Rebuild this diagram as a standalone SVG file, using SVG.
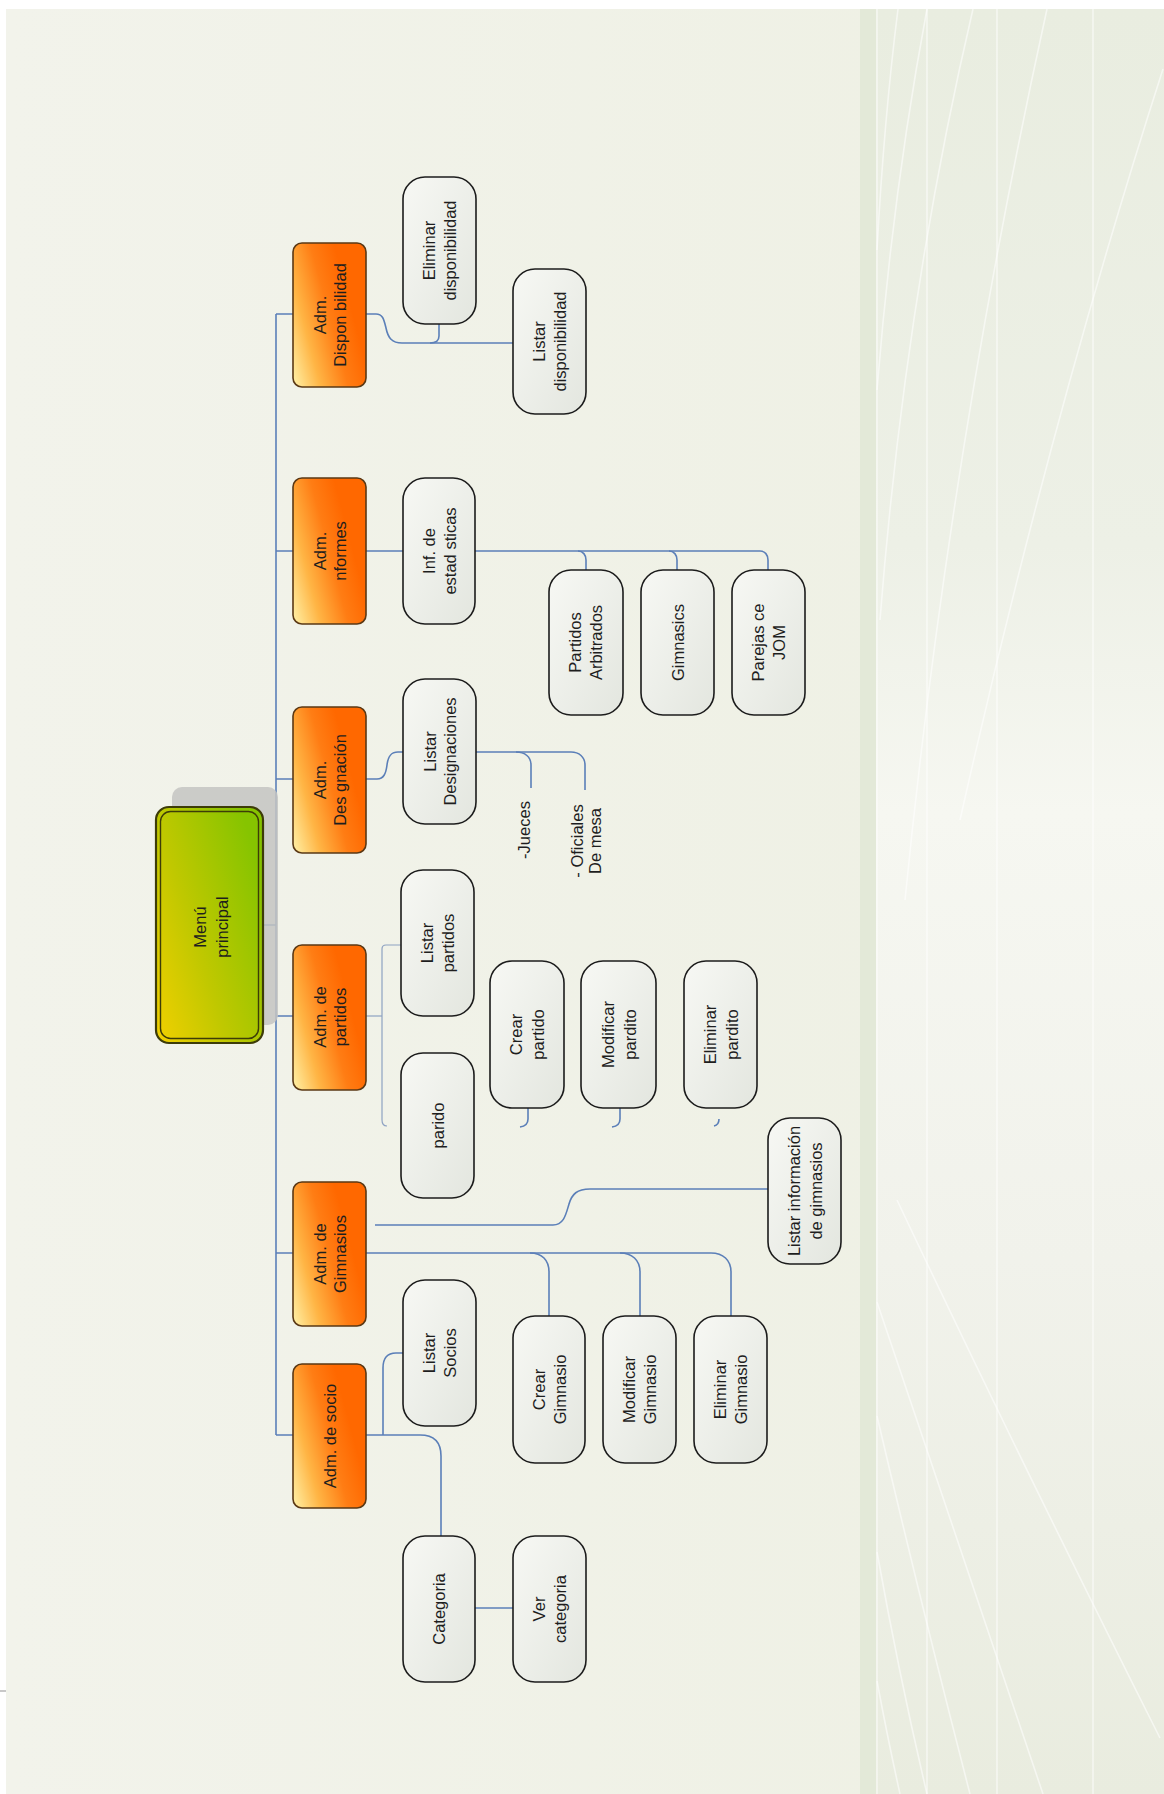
<svg xmlns="http://www.w3.org/2000/svg" width="1164" height="1794" viewBox="0 0 1164 1794">
<defs>
<linearGradient id="bg" x1="0" y1="0" x2="1" y2="0">
<stop offset="0" stop-color="#f2f3eb"/><stop offset="1" stop-color="#eef0e3"/>
</linearGradient>
<linearGradient id="pg" x1="0" y1="0" x2="0" y2="1">
<stop offset="0" stop-color="#e9ede0"/><stop offset="0.3" stop-color="#edf0e6"/><stop offset="0.45" stop-color="#f6f7f1"/><stop offset="0.7" stop-color="#f1f2eb"/><stop offset="1" stop-color="#e9ecdf"/>
</linearGradient>
<linearGradient id="og" x1="0" y1="1" x2="0.85" y2="0.55">
<stop offset="0" stop-color="#fff2a8"/><stop offset="0.35" stop-color="#ffb545"/><stop offset="0.7" stop-color="#ff7d14"/><stop offset="1" stop-color="#ff6800"/>
</linearGradient>
<linearGradient id="gg" x1="0" y1="1" x2="1" y2="0.3">
<stop offset="0" stop-color="#f2d000"/><stop offset="0.45" stop-color="#c0c800"/><stop offset="1" stop-color="#86c400"/>
</linearGradient>
<linearGradient id="wg" x1="0" y1="0" x2="1" y2="1">
<stop offset="0" stop-color="#f7f8f4"/><stop offset="1" stop-color="#e3e6df"/>
</linearGradient>
<style>
.t{font-family:"Liberation Sans",Arial,sans-serif;font-size:16.5px;fill:#1e1e1e;text-anchor:middle;dominant-baseline:central}
.o{fill:url(#og);stroke:#5a3814;stroke-width:1.6}
.g{fill:url(#wg);stroke:#1c1c1c;stroke-width:1.6}
.c{fill:none;stroke:#5b7fb8;stroke-width:1.6}
.f{fill:none;stroke:#8ea2c2;stroke-width:1.2}
.d{fill:none;stroke:#ffffff;stroke-opacity:0.55;stroke-width:1.6}
</style>
</defs>
<rect width="1164" height="1794" fill="#ffffff"/>
<rect x="6" y="9" width="1158" height="1785" fill="url(#bg)"/>
<rect x="860" y="9" width="16" height="1785" fill="#e3e9d8"/>
<rect x="876" y="9" width="288" height="1785" fill="url(#pg)"/>
<rect x="0" y="1690" width="6" height="2" fill="#c8c8c8"/>
<g id="decor">
<line class="d" x1="877" y1="9" x2="877" y2="1794" stroke-width="2.5"/>
<line class="d" x1="927" y1="9" x2="927" y2="1794"/>
<line class="d" x1="997" y1="9" x2="997" y2="1794"/>
<line class="d" x1="1093" y1="9" x2="1093" y2="1794"/>
<path class="d" d="M877,250 Q884,120 898,9"/>
<path class="d" d="M877,390 Q893,190 927,9"/>
<path class="d" d="M880,620 Q905,300 973,9"/>
<path class="d" d="M905,900 Q950,450 1047,9"/>
<path class="d" d="M960,820 Q1050,420 1163,69"/>
<path class="d" d="M897,1200 Q1020,1460 1160,1738"/>
<path class="d" d="M877,1302 Q950,1520 1043,1794"/>
<path class="d" d="M877,1416 Q920,1600 970,1794"/>
<path class="d" d="M877,1552 Q900,1680 927,1794"/>
<path class="d" d="M877,1681 Q888,1740 900,1794"/>
</g>
<g id="connectors">
<path class="c" d="M263,925 H276"/>
<path class="c" d="M276,314 V1435"/>
<path class="c" d="M276,314 H293 M276,551 H293 M276,779 H293 M276,1016 H293 M276,1253 H293 M276,1435 H293"/>
<path class="c" d="M366,314 H376 C383,314 384,320 386,328 C388,338 392,343 402,343 H513"/>
<path class="c" d="M439,324 V336 C439,341 436,343 430,343"/>
<path class="c" d="M366,551 H403 M475,551 H760 C765,551 768,555 768,560 V570"/>
<path class="c" d="M578,551 C583,551 586,555 586,560 V570"/>
<path class="c" d="M669,551 C674,551 677,555 677,560 V570"/>
<path class="c" d="M366,779 H377 C384,779 386,773 387,765 C388,756 391,752 398,752 H403"/>
<path class="c" d="M476,752 H571 C579,752 585,757 585,765 V790"/>
<path class="c" d="M516,752 C525,752 531,757 531,765 V788"/>
<path class="f" d="M366,1016 H382"/>
<path class="f" d="M401,945 H386 Q382,945 382,949 V1120 Q382,1126 387,1126"/>
<path class="c" d="M528,1108 V1119 Q528,1126 520,1127"/>
<path class="c" d="M620,1108 V1119 Q620,1126 612,1127"/>
<path class="c" d="M719,1119 Q719,1125 714,1126"/>
<path class="c" d="M375,1225 H553 C564,1225 566,1214 569,1204 C572,1194 577,1189 590,1189 H768"/>
<path class="c" d="M366,1253 H711 C723,1253 731,1260 731,1272 V1317"/>
<path class="c" d="M530,1253 C542,1253 549,1260 549,1272 V1317"/>
<path class="c" d="M620,1253 C632,1253 640,1260 640,1272 V1317"/>
<path class="c" d="M366,1435 H420 C434,1435 441,1442 441,1456 V1536"/>
<path class="c" d="M383,1435 V1368 C383,1358 388,1353 396,1353 H403"/>
<path class="c" d="M475,1608 H513"/>
</g>
<g id="menu">
<rect x="172" y="787" width="106" height="238" rx="10" fill="#c4c4c2" opacity="0.85"/>
<rect x="156" y="807" width="107" height="236" rx="13" fill="url(#gg)" stroke="#3d3c08" stroke-width="2.2"/>
<rect x="160.5" y="811.5" width="98" height="227" rx="10" fill="none" stroke="#3d3c08" stroke-width="1.4"/>
<text class="t" transform="translate(211,927) rotate(-90)"><tspan x="0" y="-11">Menú</tspan><tspan x="0" y="11">principal</tspan></text>
</g>
<g id="adm-disponibilidad">
<rect class="o" x="293" y="243" width="73" height="144" rx="9"/>
<text class="t" transform="translate(330,315) rotate(-90)"><tspan x="0" y="-10">Adm.</tspan><tspan x="0" y="10">Dispon bilidad</tspan></text>
</g>
<g id="adm-informes">
<rect class="o" x="293" y="478" width="73" height="146" rx="9"/>
<text class="t" transform="translate(330,551) rotate(-90)"><tspan x="0" y="-10">Adm.</tspan><tspan x="0" y="10">nformes</tspan></text>
</g>
<g id="adm-designacion">
<rect class="o" x="293" y="707" width="73" height="146" rx="9"/>
<text class="t" transform="translate(330,780) rotate(-90)"><tspan x="0" y="-10">Adm.</tspan><tspan x="0" y="10">Des gnación</tspan></text>
</g>
<g id="adm-partidos">
<rect class="o" x="293" y="945" width="73" height="145" rx="9"/>
<text class="t" transform="translate(330,1017) rotate(-90)"><tspan x="0" y="-10">Adm. de</tspan><tspan x="0" y="10">partidos</tspan></text>
</g>
<g id="adm-gimnasios">
<rect class="o" x="293" y="1182" width="73" height="144" rx="9"/>
<text class="t" transform="translate(330,1254) rotate(-90)"><tspan x="0" y="-10">Adm. de</tspan><tspan x="0" y="10">Gimnasios</tspan></text>
</g>
<g id="adm-socio">
<rect class="o" x="293" y="1364" width="73" height="144" rx="9"/>
<text class="t" transform="translate(330,1436) rotate(-90)">Adm. de socio</text>
</g>
<g id="eliminar-disponibilidad">
<rect class="g" x="403" y="177" width="73" height="147" rx="22"/>
<text class="t" transform="translate(439.5,250.5) rotate(-90)"><tspan x="0" y="-10.5">Eliminar</tspan><tspan x="0" y="10.5">disponibilidad</tspan></text>
</g>
<g id="listar-disponibilidad">
<rect class="g" x="513" y="269" width="73" height="145" rx="22"/>
<text class="t" transform="translate(549.5,341.5) rotate(-90)"><tspan x="0" y="-10.5">Listar</tspan><tspan x="0" y="10.5">disponibilidad</tspan></text>
</g>
<g id="inf-estadisticas">
<rect class="g" x="403" y="478" width="72" height="146" rx="22"/>
<text class="t" transform="translate(439,551) rotate(-90)"><tspan x="0" y="-10.5">Inf. de</tspan><tspan x="0" y="10.5">estad sticas</tspan></text>
</g>
<g id="partidos-arbitrados">
<rect class="g" x="549" y="570" width="74" height="145" rx="22"/>
<text class="t" transform="translate(585,642.5) rotate(-90)"><tspan x="0" y="-10.5">Partidos</tspan><tspan x="0" y="10.5">Arbitrados</tspan></text>
</g>
<g id="gimnasics">
<rect class="g" x="641" y="570" width="73" height="145" rx="22"/>
<text class="t" transform="translate(677.5,642.5) rotate(-90)">Gimnasics</text>
</g>
<g id="parejas-jom">
<rect class="g" x="732" y="570" width="73" height="145" rx="22"/>
<text class="t" transform="translate(768.5,642.5) rotate(-90)"><tspan x="0" y="-10.5">Parejas ce</tspan><tspan x="0" y="10.5">JOM</tspan></text>
</g>
<g id="listar-designaciones">
<rect class="g" x="403" y="679" width="73" height="145" rx="22"/>
<text class="t" transform="translate(440,751.5) rotate(-90)"><tspan x="0" y="-10">Listar</tspan><tspan x="0" y="10">Designaciones</tspan></text>
</g>
<g id="jueces">
<text class="t" transform="translate(524,830) rotate(-90)">-Jueces</text>
</g>
<g id="oficiales">
<text class="t" transform="translate(586,841) rotate(-90)"><tspan x="0" y="-9">- Oficiales</tspan><tspan x="0" y="9">De mesa</tspan></text>
</g>
<g id="listar-partidos">
<rect class="g" x="401" y="870" width="73" height="146" rx="22"/>
<text class="t" transform="translate(437.5,943) rotate(-90)"><tspan x="0" y="-10.5">Listar</tspan><tspan x="0" y="10.5">partidos</tspan></text>
</g>
<g id="parido">
<rect class="g" x="401" y="1053" width="73" height="145" rx="22"/>
<text class="t" transform="translate(437.5,1125.5) rotate(-90)">parido</text>
</g>
<g id="crear-partido">
<rect class="g" x="490" y="961" width="74" height="147" rx="22"/>
<text class="t" transform="translate(527,1034.5) rotate(-90)"><tspan x="0" y="-11">Crear</tspan><tspan x="0" y="11">partido</tspan></text>
</g>
<g id="modificar-partido">
<rect class="g" x="581" y="961" width="75" height="147" rx="22"/>
<text class="t" transform="translate(618.5,1034.5) rotate(-90)"><tspan x="0" y="-11">Modificar</tspan><tspan x="0" y="11">pardito</tspan></text>
</g>
<g id="eliminar-partido">
<rect class="g" x="684" y="961" width="73" height="147" rx="22"/>
<text class="t" transform="translate(720.5,1034.5) rotate(-90)"><tspan x="0" y="-11">Eliminar</tspan><tspan x="0" y="11">pardito</tspan></text>
</g>
<g id="listar-info-gimnasios">
<rect class="g" x="768" y="1118" width="73" height="146" rx="22"/>
<text class="t" transform="translate(805,1191) rotate(-90)"><tspan x="0" y="-11">Listar información</tspan><tspan x="0" y="11">de gimnasios</tspan></text>
</g>
<g id="listar-socios">
<rect class="g" x="403" y="1280" width="73" height="146" rx="22"/>
<text class="t" transform="translate(439.5,1353) rotate(-90)"><tspan x="0" y="-10.5">Listar</tspan><tspan x="0" y="10.5">Socios</tspan></text>
</g>
<g id="crear-gimnasio">
<rect class="g" x="513" y="1316" width="72" height="147" rx="22"/>
<text class="t" transform="translate(549,1389.5) rotate(-90)"><tspan x="0" y="-10.5">Crear</tspan><tspan x="0" y="10.5">Gimnasio</tspan></text>
</g>
<g id="modificar-gimnasio">
<rect class="g" x="603" y="1316" width="73" height="147" rx="22"/>
<text class="t" transform="translate(639.5,1389.5) rotate(-90)"><tspan x="0" y="-10.5">Modificar</tspan><tspan x="0" y="10.5">Gimnasio</tspan></text>
</g>
<g id="eliminar-gimnasio">
<rect class="g" x="694" y="1316" width="73" height="147" rx="22"/>
<text class="t" transform="translate(730.5,1389.5) rotate(-90)"><tspan x="0" y="-10.5">Eliminar</tspan><tspan x="0" y="10.5">Gimnasio</tspan></text>
</g>
<g id="categoria">
<rect class="g" x="403" y="1536" width="72" height="146" rx="22"/>
<text class="t" transform="translate(439,1609) rotate(-90)">Categoria</text>
</g>
<g id="ver-categoria">
<rect class="g" x="513" y="1536" width="73" height="146" rx="22"/>
<text class="t" transform="translate(549.5,1609) rotate(-90)"><tspan x="0" y="-10.5">Ver</tspan><tspan x="0" y="10.5">categoria</tspan></text>
</g>
</svg>
